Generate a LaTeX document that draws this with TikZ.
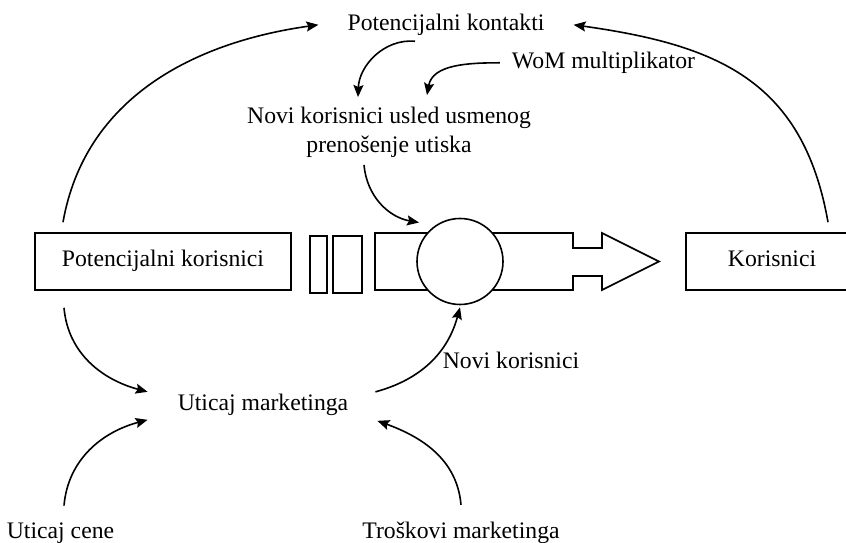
\documentclass[tikz,border=0pt]{standalone}
\usepackage{fontspec}
\setmainfont{Liberation Serif}
\usetikzlibrary{arrows.meta}

\begin{document}
\begin{tikzpicture}[x=1pt,y=1pt,
  font=\fontsize{23.7}{29}\selectfont,
  stock/.style={draw,line width=1.6pt,minimum height=57pt,text height=16pt,text depth=5pt,inner sep=0pt},
  txt/.style={inner sep=0pt,anchor=base},
  link/.style={line width=1.6pt,-{Stealth[length=12pt,width=10pt,inset=2pt]}}
]
\useasboundingbox (0,0) rectangle (846,543);

\node[stock,minimum width=256pt] (potkor) at (163,281.5) {Potencijalni korisnici};
\node[stock,minimum width=172pt] (kor) at (772,281.5) {Korisnici};
\node[txt] (kontakti) at (446,512.5) {Potencijalni kontakti};
\node[txt] (wom) at (603.5,474.5) {WoM multiplikator};
\node[inner sep=0pt,align=center] (usmeni) at (389,410.5) {Novi korisnici usled usmenog\\prenošenje utiska};
\node[txt] (marketing) at (263,132.5) {Uticaj marketinga};
\node[txt] (novi) at (511,174.5) {Novi korisnici};
\node[txt] (cena) at (60.5,4.5) {Uticaj cene};
\node[txt] (troskovi) at (461,4.5) {Troškovi marketinga};

% cloud/pipe
\draw[line width=1.6pt] (310,250) rectangle (327,307);
\draw[line width=1.6pt] (333,250) rectangle (362,307);
\draw[line width=1.6pt] (375,253) -- (375,310) -- (573,310) -- (573,295) -- (602,295)
  -- (602,310) -- (659,281.5) -- (602,253) -- (602,267) -- (573,267) -- (573,253) -- cycle;
\node[circle,draw,fill=white,line width=1.6pt,minimum size=86pt,inner sep=0pt] (valve) at (460,281.5) {};

\draw[link] ([shift={(-100,10)}]potkor.north) to[out=80,in=188] ([xshift=-29]kontakti.west);
\draw[link] ([shift={(56,10)}]kor.north) to[out=100,in=-8,looseness=1.15] ([xshift=29]kontakti.east);
\draw[link] ([shift={(-31,-5.5)}]kontakti.south) to[out=175,in=88] ([shift={(-31,10)}]usmeni.north);
\draw[link] ([xshift=-12]wom.west) to[out=180,in=80] ([shift={(38,12)}]usmeni.north);
\draw[link] ([shift={(-25,-7)}]usmeni.south) to[out=-85,in=170] ([shift={(-10,8)}]valve.north west);
\draw[link] ([shift={(-99,-17)}]potkor.south) to[out=-85,in=165] ([shift={(-30,13)}]marketing.west);
\draw[link] ([shift={(27,13)}]marketing.east) to[out=15,in=-105] ([yshift=-2]valve.south);
\draw[link] ([shift={(3.5,17)}]cena.north) to[out=85,in=195] ([shift={(-30,-15)}]marketing.west);
\draw[link] ([yshift=17]troskovi.north) to[out=95,in=-20] ([shift={(29,-16)}]marketing.east);
\end{tikzpicture}
\end{document}
